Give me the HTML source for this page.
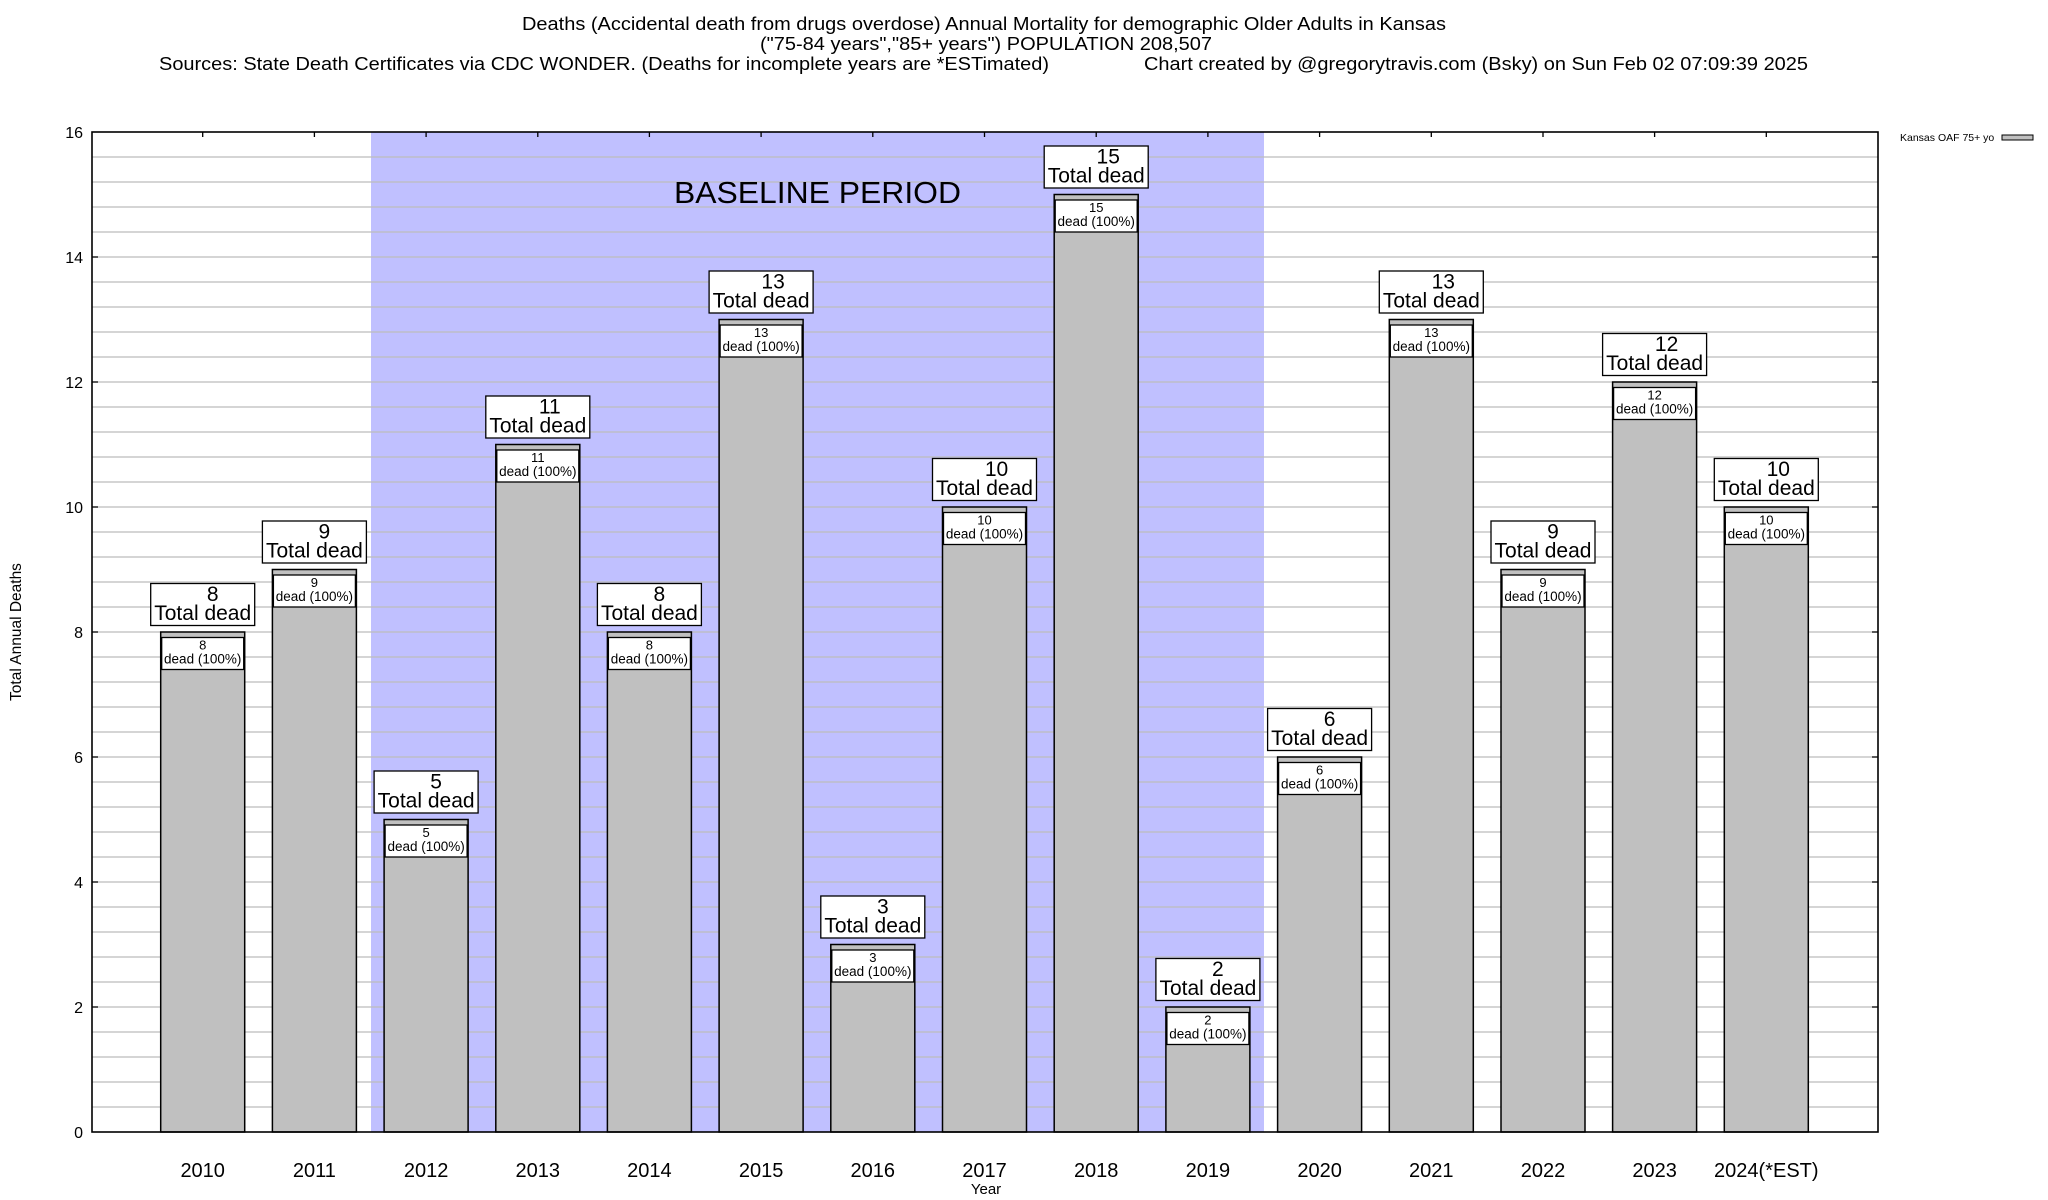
<!DOCTYPE html>
<html><head><meta charset="utf-8"><style>
html,body{margin:0;padding:0;background:#fff;}
svg{display:block;font-family:"Liberation Sans",sans-serif;}
</style></head><body>
<svg width="2048" height="1200" viewBox="0 0 2048 1200" xmlns="http://www.w3.org/2000/svg">
<rect width="2048" height="1200" fill="#fff"/>
<g font-size="18" text-anchor="middle" fill="#000">
<text x="984" y="30" textLength="924" lengthAdjust="spacingAndGlyphs">Deaths (Accidental death from drugs overdose) Annual Mortality for demographic Older Adults in Kansas</text>
<text x="986" y="50" textLength="452" lengthAdjust="spacingAndGlyphs">("75-84 years","85+ years") POPULATION 208,507</text>
<text x="604" y="70" textLength="890" lengthAdjust="spacingAndGlyphs">Sources: State Death Certificates via CDC WONDER. (Deaths for incomplete years are *ESTimated)</text>
<text x="1476" y="70" textLength="664" lengthAdjust="spacingAndGlyphs">Chart created by @gregorytravis.com (Bsky) on Sun Feb 02 07:09:39 2025</text>
</g>
<rect x="371" y="132" width="893" height="1000" fill="#c0c0ff"/>
<path stroke="#bcbcbc" stroke-width="1.3" fill="none" d="M92 157H1878M92 182H1878M92 207H1878M92 232H1878M92 257H1878M92 282H1878M92 307H1878M92 332H1878M92 357H1878M92 382H1878M92 407H1878M92 432H1878M92 457H1878M92 482H1878M92 507H1878M92 532H1878M92 557H1878M92 582H1878M92 607H1878M92 632H1878M92 657H1878M92 682H1878M92 707H1878M92 732H1878M92 757H1878M92 782H1878M92 807H1878M92 832H1878M92 857H1878M92 882H1878M92 907H1878M92 932H1878M92 957H1878M92 982H1878M92 1007H1878M92 1032H1878M92 1057H1878M92 1082H1878M92 1107H1878"/>
<text x="674" y="203" font-size="31" textLength="287" lengthAdjust="spacingAndGlyphs">BASELINE PERIOD</text>
<g stroke="#000" stroke-width="1.5">
<g transform="translate(202.7,632)"><rect x="-42" y="0" width="84" height="500" fill="#c0c0c0"/><rect x="-41" y="5.5" width="82" height="32" fill="#fff" stroke-width="1.3"/><rect x="-52" y="-48.5" width="104" height="42" fill="#fff" stroke-width="1.3"/></g>
<g transform="translate(314.4,569.5)"><rect x="-42" y="0" width="84" height="562.5" fill="#c0c0c0"/><rect x="-41" y="5.5" width="82" height="32" fill="#fff" stroke-width="1.3"/><rect x="-52" y="-48.5" width="104" height="42" fill="#fff" stroke-width="1.3"/></g>
<g transform="translate(426.1,819.5)"><rect x="-42" y="0" width="84" height="312.5" fill="#c0c0c0"/><rect x="-41" y="5.5" width="82" height="32" fill="#fff" stroke-width="1.3"/><rect x="-52" y="-48.5" width="104" height="42" fill="#fff" stroke-width="1.3"/></g>
<g transform="translate(537.8,444.5)"><rect x="-42" y="0" width="84" height="687.5" fill="#c0c0c0"/><rect x="-41" y="5.5" width="82" height="32" fill="#fff" stroke-width="1.3"/><rect x="-52" y="-48.5" width="104" height="42" fill="#fff" stroke-width="1.3"/></g>
<g transform="translate(649.4,632)"><rect x="-42" y="0" width="84" height="500" fill="#c0c0c0"/><rect x="-41" y="5.5" width="82" height="32" fill="#fff" stroke-width="1.3"/><rect x="-52" y="-48.5" width="104" height="42" fill="#fff" stroke-width="1.3"/></g>
<g transform="translate(761.1,319.5)"><rect x="-42" y="0" width="84" height="812.5" fill="#c0c0c0"/><rect x="-41" y="5.5" width="82" height="32" fill="#fff" stroke-width="1.3"/><rect x="-52" y="-48.5" width="104" height="42" fill="#fff" stroke-width="1.3"/></g>
<g transform="translate(872.8,944.5)"><rect x="-42" y="0" width="84" height="187.5" fill="#c0c0c0"/><rect x="-41" y="5.5" width="82" height="32" fill="#fff" stroke-width="1.3"/><rect x="-52" y="-48.5" width="104" height="42" fill="#fff" stroke-width="1.3"/></g>
<g transform="translate(984.5,507)"><rect x="-42" y="0" width="84" height="625" fill="#c0c0c0"/><rect x="-41" y="5.5" width="82" height="32" fill="#fff" stroke-width="1.3"/><rect x="-52" y="-48.5" width="104" height="42" fill="#fff" stroke-width="1.3"/></g>
<g transform="translate(1096.2,194.5)"><rect x="-42" y="0" width="84" height="937.5" fill="#c0c0c0"/><rect x="-41" y="5.5" width="82" height="32" fill="#fff" stroke-width="1.3"/><rect x="-52" y="-48.5" width="104" height="42" fill="#fff" stroke-width="1.3"/></g>
<g transform="translate(1207.9,1007)"><rect x="-42" y="0" width="84" height="125" fill="#c0c0c0"/><rect x="-41" y="5.5" width="82" height="32" fill="#fff" stroke-width="1.3"/><rect x="-52" y="-48.5" width="104" height="42" fill="#fff" stroke-width="1.3"/></g>
<g transform="translate(1319.6,757)"><rect x="-42" y="0" width="84" height="375" fill="#c0c0c0"/><rect x="-41" y="5.5" width="82" height="32" fill="#fff" stroke-width="1.3"/><rect x="-52" y="-48.5" width="104" height="42" fill="#fff" stroke-width="1.3"/></g>
<g transform="translate(1431.3,319.5)"><rect x="-42" y="0" width="84" height="812.5" fill="#c0c0c0"/><rect x="-41" y="5.5" width="82" height="32" fill="#fff" stroke-width="1.3"/><rect x="-52" y="-48.5" width="104" height="42" fill="#fff" stroke-width="1.3"/></g>
<g transform="translate(1543,569.5)"><rect x="-42" y="0" width="84" height="562.5" fill="#c0c0c0"/><rect x="-41" y="5.5" width="82" height="32" fill="#fff" stroke-width="1.3"/><rect x="-52" y="-48.5" width="104" height="42" fill="#fff" stroke-width="1.3"/></g>
<g transform="translate(1654.6,382)"><rect x="-42" y="0" width="84" height="750" fill="#c0c0c0"/><rect x="-41" y="5.5" width="82" height="32" fill="#fff" stroke-width="1.3"/><rect x="-52" y="-48.5" width="104" height="42" fill="#fff" stroke-width="1.3"/></g>
<g transform="translate(1766.3,507)"><rect x="-42" y="0" width="84" height="625" fill="#c0c0c0"/><rect x="-41" y="5.5" width="82" height="32" fill="#fff" stroke-width="1.3"/><rect x="-52" y="-48.5" width="104" height="42" fill="#fff" stroke-width="1.3"/></g>
</g>
<g text-anchor="middle" fill="#000">
<g transform="translate(202.7,632)"><text y="17.5" font-size="13">8</text><text y="31.5" font-size="13.5">dead (100%)</text><text x="10" y="-31" font-size="21">8</text><text y="-12" font-size="21">Total dead</text></g>
<g transform="translate(314.4,569.5)"><text y="17.5" font-size="13">9</text><text y="31.5" font-size="13.5">dead (100%)</text><text x="10" y="-31" font-size="21">9</text><text y="-12" font-size="21">Total dead</text></g>
<g transform="translate(426.1,819.5)"><text y="17.5" font-size="13">5</text><text y="31.5" font-size="13.5">dead (100%)</text><text x="10" y="-31" font-size="21">5</text><text y="-12" font-size="21">Total dead</text></g>
<g transform="translate(537.8,444.5)"><text y="17.5" font-size="13">11</text><text y="31.5" font-size="13.5">dead (100%)</text><text x="12" y="-31" font-size="21">11</text><text y="-12" font-size="21">Total dead</text></g>
<g transform="translate(649.4,632)"><text y="17.5" font-size="13">8</text><text y="31.5" font-size="13.5">dead (100%)</text><text x="10" y="-31" font-size="21">8</text><text y="-12" font-size="21">Total dead</text></g>
<g transform="translate(761.1,319.5)"><text y="17.5" font-size="13">13</text><text y="31.5" font-size="13.5">dead (100%)</text><text x="12" y="-31" font-size="21">13</text><text y="-12" font-size="21">Total dead</text></g>
<g transform="translate(872.8,944.5)"><text y="17.5" font-size="13">3</text><text y="31.5" font-size="13.5">dead (100%)</text><text x="10" y="-31" font-size="21">3</text><text y="-12" font-size="21">Total dead</text></g>
<g transform="translate(984.5,507)"><text y="17.5" font-size="13">10</text><text y="31.5" font-size="13.5">dead (100%)</text><text x="12" y="-31" font-size="21">10</text><text y="-12" font-size="21">Total dead</text></g>
<g transform="translate(1096.2,194.5)"><text y="17.5" font-size="13">15</text><text y="31.5" font-size="13.5">dead (100%)</text><text x="12" y="-31" font-size="21">15</text><text y="-12" font-size="21">Total dead</text></g>
<g transform="translate(1207.9,1007)"><text y="17.5" font-size="13">2</text><text y="31.5" font-size="13.5">dead (100%)</text><text x="10" y="-31" font-size="21">2</text><text y="-12" font-size="21">Total dead</text></g>
<g transform="translate(1319.6,757)"><text y="17.5" font-size="13">6</text><text y="31.5" font-size="13.5">dead (100%)</text><text x="10" y="-31" font-size="21">6</text><text y="-12" font-size="21">Total dead</text></g>
<g transform="translate(1431.3,319.5)"><text y="17.5" font-size="13">13</text><text y="31.5" font-size="13.5">dead (100%)</text><text x="12" y="-31" font-size="21">13</text><text y="-12" font-size="21">Total dead</text></g>
<g transform="translate(1543,569.5)"><text y="17.5" font-size="13">9</text><text y="31.5" font-size="13.5">dead (100%)</text><text x="10" y="-31" font-size="21">9</text><text y="-12" font-size="21">Total dead</text></g>
<g transform="translate(1654.6,382)"><text y="17.5" font-size="13">12</text><text y="31.5" font-size="13.5">dead (100%)</text><text x="12" y="-31" font-size="21">12</text><text y="-12" font-size="21">Total dead</text></g>
<g transform="translate(1766.3,507)"><text y="17.5" font-size="13">10</text><text y="31.5" font-size="13.5">dead (100%)</text><text x="12" y="-31" font-size="21">10</text><text y="-12" font-size="21">Total dead</text></g>
</g>
<rect x="92" y="132" width="1786" height="1000" fill="none" stroke="#000" stroke-width="1.6"/>
<path stroke="#000" stroke-width="1.3" d="M202.7 132v5M314.4 132v5M426.1 132v5M537.8 132v5M649.4 132v5M761.1 132v5M872.8 132v5M984.5 132v5M1096.2 132v5M1207.9 132v5M1319.6 132v5M1431.3 132v5M1543 132v5M1654.6 132v5M1766.3 132v5M92 257h6M92 382h6M92 507h6M92 632h6M92 757h6M92 882h6M92 1007h6M1878 257h-6M1878 382h-6M1878 507h-6M1878 632h-6M1878 757h-6M1878 882h-6M1878 1007h-6"/>
<g font-size="16" text-anchor="end" fill="#000">
<text x="83" y="138">16</text><text x="83" y="263">14</text><text x="83" y="388">12</text><text x="83" y="513">10</text><text x="83" y="638">8</text><text x="83" y="763">6</text><text x="83" y="888">4</text><text x="83" y="1013">2</text><text x="83" y="1138">0</text>
</g>
<g font-size="20" text-anchor="middle" fill="#000">
<text x="202.7" y="1177">2010</text><text x="314.4" y="1177">2011</text><text x="426.1" y="1177">2012</text><text x="537.8" y="1177">2013</text><text x="649.4" y="1177">2014</text><text x="761.1" y="1177">2015</text><text x="872.8" y="1177">2016</text><text x="984.5" y="1177">2017</text><text x="1096.2" y="1177">2018</text><text x="1207.9" y="1177">2019</text><text x="1319.6" y="1177">2020</text><text x="1431.3" y="1177">2021</text><text x="1543" y="1177">2022</text><text x="1654.6" y="1177">2023</text><text x="1766.3" y="1177">2024(*EST)</text>
</g>
<text x="986" y="1194" font-size="15" text-anchor="middle">Year</text>
<text transform="translate(21,632) rotate(-90)" font-size="15.5" text-anchor="middle">Total Annual Deaths</text>
<text x="1900" y="141" font-size="10.5">Kansas OAF 75+ yo</text>
<rect x="2002" y="135" width="31" height="5" fill="#c0c0c0" stroke="#000" stroke-width="1"/>
</svg>
</body></html>
